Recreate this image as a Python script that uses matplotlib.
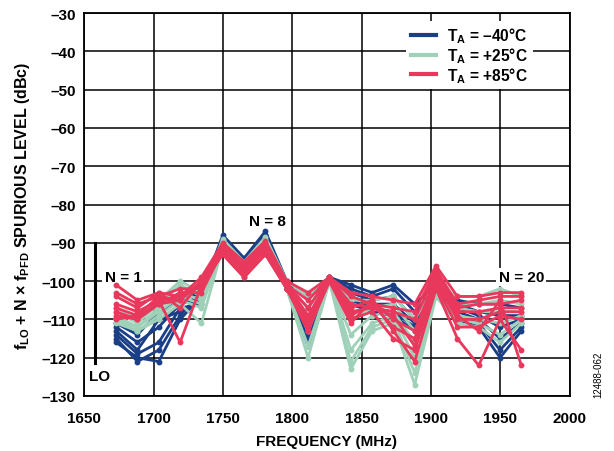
import matplotlib
matplotlib.use("Agg")
import matplotlib.pyplot as plt
import numpy as np

plt.rcParams['font.family'] = ['Liberation Sans', 'DejaVu Sans']
plt.rcParams['mathtext.fontset'] = 'custom'
plt.rcParams['mathtext.rm'] = 'Liberation Sans:bold'
plt.rcParams['mathtext.it'] = 'Liberation Sans:bold'
plt.rcParams['mathtext.bf'] = 'Liberation Sans:bold'

# Harmonic index N and frequency of each spur
f_lo = 1657.7
f_pfd = 15.37
n_index = list(range(1, 21))

blue_series = [
    [-111, -114, -108, -105, -103, -88, -94, -87, -100, -104, -99, -101, -103, -101, -106, -101, -105, -106, -106, -107],
    [-112, -116, -112, -106, -104, -89, -95, -88, -101, -107, -99, -102, -104, -102, -108, -102, -106, -108, -109, -109],
    [-113, -118, -110, -108, -105, -89, -95, -88, -101, -110, -99.5, -103, -105, -104, -110, -102, -107, -109, -112, -110],
    [-114, -119, -116, -107, -106, -90, -96, -89, -101, -113, -99.5, -104, -106, -106, -111, -103, -108, -110, -115, -111],
    [-115, -121, -118, -109, -103, -90, -96, -89, -102, -115, -100, -105, -107, -108, -112, -103, -109, -111, -118, -112],
    [-116, -120, -121, -110, -104, -90, -97, -90, -102, -117, -100, -106, -108, -109, -113, -104, -110, -112, -120, -113],
]
green_series = [
    [-107, -110, -105, -100, -103, -89, -95, -88.5, -100, -104, -99, -105, -105, -104, -110, -101, -104, -104, -102, -104],
    [-108, -111, -106, -101, -104, -89.5, -96, -89, -101, -107, -99, -110, -107, -106, -113, -102, -106, -106, -105, -106],
    [-109, -112, -107, -103, -105, -90, -96, -89.5, -101, -110, -99.5, -114, -109, -108, -116, -102, -107, -108, -108, -108],
    [-110, -112, -108, -104, -106, -90, -97, -90, -101, -113, -99.5, -118, -111, -109, -120, -103, -109, -110, -111, -109],
    [-110, -113, -109, -105, -107, -91, -97, -90, -102, -117, -100, -121, -112, -110, -124, -103, -110, -111, -114, -110],
    [-111, -113, -110, -106, -111, -91, -98, -91, -102, -120, -100, -123, -113, -111, -127, -104, -111, -112, -116, -111],
]
red_series = [
    [-101, -105, -103, -104, -99, -90, -95, -89.5, -100, -103, -99, -103, -104, -105, -106, -96, -104, -104, -103, -103],
    [-103, -106, -104, -105, -100, -90.5, -96, -90, -101, -105, -99, -104, -106, -107, -108, -97, -106, -105, -104, -104],
    [-104, -107, -103, -107, -100, -91, -96.5, -90.5, -101, -107, -99, -106, -107, -108, -110, -98, -107, -106, -106, -105],
    [-106, -108, -105, -116, -101, -91, -97, -91, -101, -109, -99.5, -107, -105, -110, -113, -99, -108, -108, -107, -107],
    [-107, -109, -104, -102, -102, -92, -98, -91.5, -102, -111, -99.5, -109, -106, -112, -115, -100, -110, -110, -108, -108],
    [-108, -110, -106, -103, -103, -92, -98, -92, -102, -112, -100, -110, -108, -115, -118, -101, -112, -112, -109, -110],
    [-109, -110, -105, -104, -101, -93, -99, -93, -102, -113, -100, -111, -105, -113, -121, -102, -115, -122, -110, -118],
    [-110, -109, -106, -105, -100, -93, -99, -93, -102, -110, -100, -108, -107, -109, -117, -100, -109, -113, -105, -122],
]

temp_labels = ['$\\mathbf{T_A}$ = –40°C', '$\\mathbf{T_A}$ = +25°C', '$\\mathbf{T_A}$ = +85°C']
colors = ['#1b3f86', '#9fd1b9', '#e8395c']

x_ticks = [1650, 1700, 1750, 1800, 1850, 1900, 1950, 2000]
y_ticks = [-30, -40, -50, -60, -70, -80, -90, -100, -110, -120, -130]

freqs = f_lo + f_pfd * np.array(n_index)

fig = plt.figure(figsize=(6.14, 4.52), dpi=100)
ax = fig.add_axes([0.137, 0.1217, 0.791, 0.8473])

for group, c, lab in zip([blue_series, green_series, red_series], colors, temp_labels):
    for i, s in enumerate(group):
        ax.plot(freqs, s, color=c, lw=2.0, marker='o', ms=3.2, zorder=3,
                label=lab if i == 0 else None)

ax.set_xlim(1650, 2000)
ax.set_ylim(-130, -30)
ax.set_xticks(x_ticks)
ax.set_yticks(y_ticks)
ax.set_yticklabels([str(v).replace('-', '–') for v in y_ticks])
ax.grid(True, color='black', lw=1.1, zorder=0)
ax.set_axisbelow(True)
ax.tick_params(axis='y', length=0, labelsize=11, pad=6)
ax.tick_params(axis='x', length=0, labelsize=11, pad=11)
for lbl in ax.get_xticklabels() + ax.get_yticklabels():
    lbl.set_fontweight('bold')
for sp in ax.spines.values():
    sp.set_linewidth(1.3)

ax.set_xlabel('FREQUENCY (MHz)', fontsize=11, fontweight='bold', labelpad=6)
ax.set_ylabel('$\\mathbf{f_{LO}}$ + N × $\\mathbf{f_{PFD}}$ SPURIOUS LEVEL (dBc)',
              fontsize=11.5, fontweight='bold', labelpad=7)

# LO marker
ax.plot([f_lo, f_lo], [-90, -121.5], color='black', lw=2.2, zorder=4)
ax.text(1661, -124.8, 'LO', fontsize=11, fontweight='bold', ha='center', va='center', zorder=5)

bb = dict(facecolor='white', edgecolor='none', pad=1.5)
ax.text(1678, -99, 'N = 1', fontsize=11, fontweight='bold', ha='center', va='center', bbox=bb, zorder=2)
ax.text(1782, -84.3, 'N = 8', fontsize=11, fontweight='bold', ha='center', va='center', zorder=5)
ax.text(1965, -99, 'N = 20', fontsize=11, fontweight='bold', ha='center', va='center', bbox=bb, zorder=2)

leg = ax.legend(loc='upper right', bbox_to_anchor=(0.94, 1.0), frameon=True, fancybox=False,
                framealpha=1, facecolor='white', edgecolor='none', fontsize=11.2,
                handlelength=1.6, handletextpad=0.75, labelspacing=0.0, borderpad=0.3)
for t in leg.get_texts():
    t.set_fontweight('bold')
for h in leg.get_lines():
    h.set_marker('')
    h.set_linewidth(3)

fig.text(0.975, 0.12, '12488-062', rotation=90, fontsize=7, ha='center', va='bottom')

fig.savefig('out.png', dpi=100)
